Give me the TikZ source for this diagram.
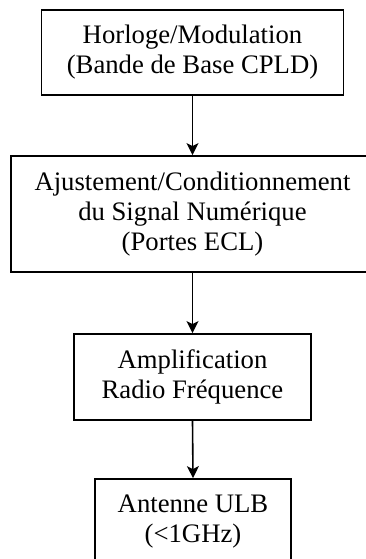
\documentclass[tikz,border=0pt]{standalone}
\usepackage{fontspec}
\setmainfont{Liberation Serif}
\usetikzlibrary{arrows.meta}
\begin{document}
\begin{tikzpicture}[x=1pt,y=-1pt,
  blockbox/.style={draw=black,line width=1.8pt,fill=white,inner sep=0pt,align=center,
    font=\fontsize{26.7}{30}\selectfont},
  flowarrow/.style={line width=1.6pt,-{Stealth[length=12pt,width=12pt,inset=3pt]}}]
\useasboundingbox (0,0) rectangle (366,559);
\clip (0,0) rectangle (366,559);
\node[blockbox,minimum width=302pt,minimum height=85pt] (b1) at (192.5,52.5)
  {Horloge/Modulation\\(Bande de Base CPLD)};
\node[blockbox,minimum width=363pt,minimum height=116pt] (b2) at (192.5,214)
  {Ajustement/Conditionnement\\du Signal Numérique\\(Portes ECL)};
\node[blockbox,minimum width=237pt,minimum height=86pt] (b3) at (192.5,377)
  {Amplification\\Radio Fréquence};
\node[blockbox,minimum width=196pt,minimum height=86pt] (b4) at (193,522)
  {Antenne ULB\\(<1GHz)};
\draw[flowarrow] (b1.south) -- (b2.north);
\draw[flowarrow] (b2.south) -- (b3.north);
\draw[flowarrow] (b3.south) -- (b4.north);
\end{tikzpicture}
\end{document}
